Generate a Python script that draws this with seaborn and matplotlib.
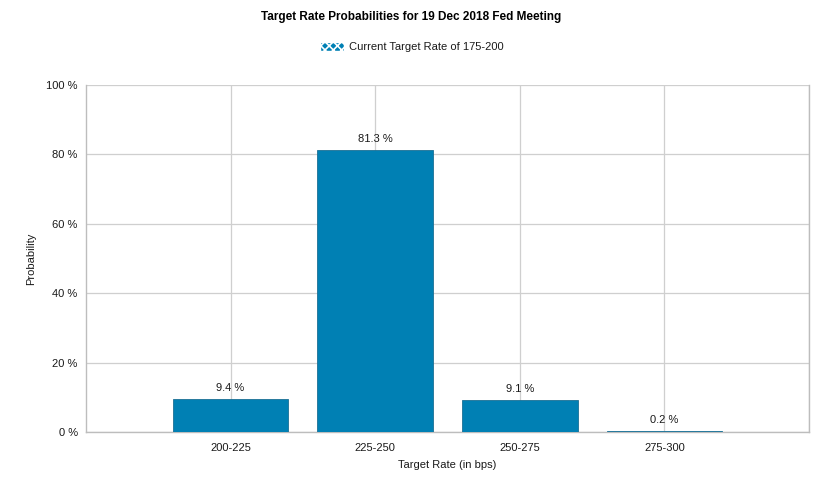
import matplotlib
matplotlib.use("Agg")
import matplotlib.pyplot as plt
import seaborn as sns
import pandas as pd
from matplotlib.patches import Patch

categories = ["200-225", "225-250", "250-275", "275-300"]
probabilities = [9.4, 81.3, 9.1, 0.2]
value_labels = ["9.4 %", "81.3 %", "9.1 %", "0.2 %"]
y_ticks = [0, 20, 40, 60, 80, 100]
y_tick_labels = ["0 %", "20 %", "40 %", "60 %", "80 %", "100 %"]
series_name = "Current Target Rate of 175-200"
title = "Target Rate Probabilities for 19 Dec 2018 Fed Meeting"

df = pd.DataFrame({"cat": categories, "prob": probabilities})

sns.set_theme(style="white")
plt.rcParams["font.family"] = ["Liberation Sans", "DejaVu Sans"]
plt.rcParams["hatch.linewidth"] = 1.2

bar_color = "#0080b4"
grid_color = "#cfcfcf"
text_color = "#1a1a1a"

fig = plt.figure(figsize=(8.23, 4.88), dpi=100)
ax = fig.add_axes([86/823, 1-432/488, (809-86)/823, (432-85)/488])

sns.barplot(data=df, x="cat", y="prob", color=bar_color, saturation=1,
            width=0.8, ax=ax, zorder=3, edgecolor="#1b6f94", linewidth=0.6)
ax.set_xlim(-1, 4)
ax.set_ylim(0, 100)

ax.set_yticks(y_ticks)
ax.set_yticklabels(y_tick_labels, fontsize=8, color=text_color)
ax.set_xticks(range(len(categories)))
ax.set_xticklabels(categories, fontsize=8, color=text_color)

# gridlines
for y in y_ticks:
    ax.axhline(y, color=grid_color, lw=0.9, zorder=1)
for x in list(range(len(categories))) + [4]:
    ax.axvline(x, color=grid_color, lw=0.9, zorder=1)

ax.spines["top"].set_visible(False)
for s in ["left", "bottom", "right"]:
    ax.spines[s].set_color("#bdbdbd")
    ax.spines[s].set_linewidth(1.0)
ax.tick_params(axis="both", length=4, color="#bdbdbd", pad=2)
ax.tick_params(axis="x", pad=4)

for i, (v, lab) in enumerate(zip(probabilities, value_labels)):
    ax.text(i, v + 1.8, lab, ha="center", va="bottom", fontsize=8, color=text_color, zorder=4)

ax.set_xlabel("Target Rate (in bps)", fontsize=8, color=text_color, labelpad=5)
ax.set_ylabel("Probability", fontsize=8, color=text_color)
ax.yaxis.set_label_coords(-(86 - 36) / (809 - 86), 0.5)

fig.text(0.5, 1-17/488, title, ha="center", va="center", fontsize=8.5,
         fontweight="bold", color="black")

handle = Patch(facecolor=bar_color, edgecolor="white", hatch="xxxx", label=series_name)
fig.legend(handles=[handle], loc="center", bbox_to_anchor=(0.5, 1-47/488),
           frameon=False, fontsize=8, handlelength=2.2, handleheight=0.9,
           handletextpad=0.4, labelcolor=text_color)

fig.savefig("out.png", dpi=100)
